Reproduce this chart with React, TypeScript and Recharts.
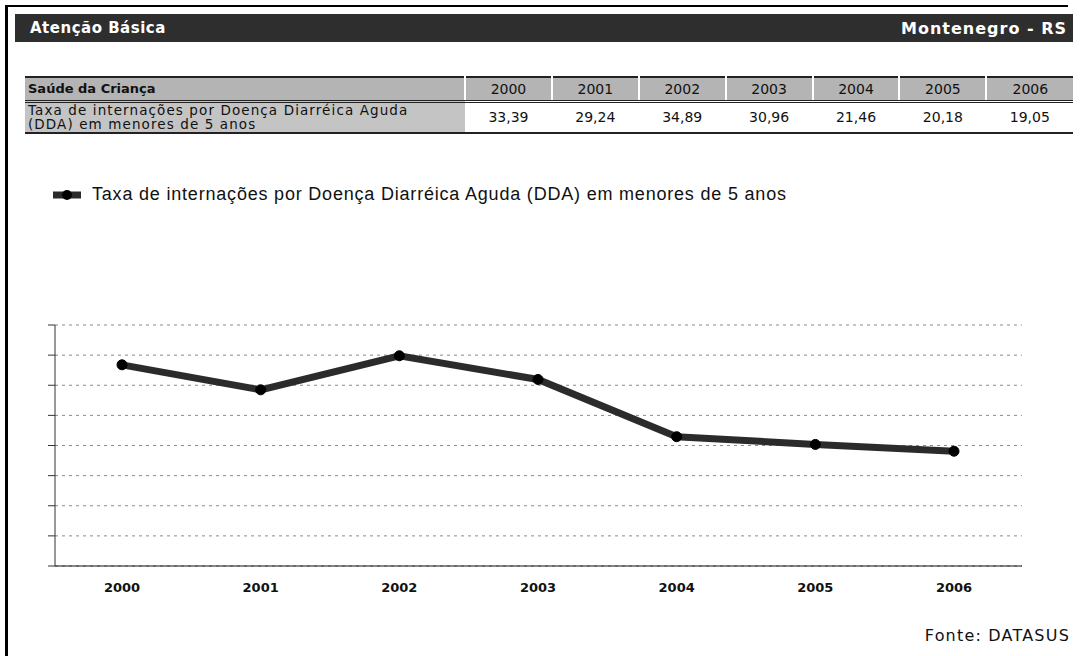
import { LineChart, Line, XAxis, YAxis, CartesianGrid, Legend } from "recharts";

const years = ["2000", "2001", "2002", "2003", "2004", "2005", "2006"];
const taxaDDA = [33.39, 29.24, 34.89, 30.96, 21.46, 20.18, 19.05];
const valueLabels = ["33,39", "29,24", "34,89", "30,96", "21,46", "20,18", "19,05"];
const yTicks = [0, 5, 10, 15, 20, 25, 30, 35, 40];

const seriesName = "Taxa de internações por Doença Diarréica Aguda (DDA) em menores de 5 anos";

const chartData = years.map((year, i) => ({ year, taxa: taxaDDA[i] }));

const tableFont = "'DejaVu Sans', Verdana, sans-serif";

function LegendContent() {
  return (
    <div style={{ display: "flex", alignItems: "center", fontFamily: "'Liberation Sans', Arial, sans-serif", fontSize: 18, letterSpacing: 0.8, color: "#111", whiteSpace: "nowrap" }}>
      <svg width={30} height={12} style={{ marginRight: 10 }}>
        <line x1={1} y1={6} x2={29} y2={6} stroke="#2b2b2b" strokeWidth={7} />
        <circle cx={15} cy={6} r={5} fill="#000" />
      </svg>
      <span>{seriesName}</span>
    </div>
  );
}

export default function App() {
  const colW = 86.9;

  return (
    <div style={{ position: "absolute", left: 0, top: 0, width: 1080, height: 656, background: "#fff", overflow: "hidden" }}>
      {/* page frame */}
      <div style={{ position: "absolute", left: 5, top: 5, width: 1060, height: 660, borderLeft: "3px solid #000", borderTop: "2px solid #000" }} />

      {/* header bar */}
      <div
        style={{
          position: "absolute", left: 15, top: 14, width: 1058, height: 28, background: "#2e2e2e",
          display: "flex", alignItems: "center", justifyContent: "space-between",
          fontFamily: tableFont, fontWeight: "bold", color: "#fff",
        }}
      >
        <span style={{ marginLeft: 15, fontSize: 15, letterSpacing: 0.5 }}>Atenção Básica</span>
        <span style={{ marginRight: 6, fontSize: 16, letterSpacing: 1 }}>Montenegro - RS</span>
      </div>

      {/* data table */}
      <table
        style={{
          position: "absolute", left: 25, top: 76, width: 1048, borderCollapse: "collapse",
          fontFamily: tableFont, fontSize: 13, color: "#111", tableLayout: "fixed",
        }}
      >
        <colgroup>
          <col style={{ width: 440 }} />
          {years.map((y) => (
            <col key={y} style={{ width: colW }} />
          ))}
        </colgroup>
        <tbody>
          <tr style={{ height: 24, background: "#b4b4b4", borderTop: "2px solid #222", borderBottom: "3px double #222" }}>
            <td style={{ padding: "0 3px", fontWeight: "bold" }}>Saúde da Criança</td>
            {years.map((y) => (
              <td key={y} style={{ textAlign: "center", borderLeft: "2px solid #fff", fontSize: 14 }}>{y}</td>
            ))}
          </tr>
          <tr style={{ height: 32, borderBottom: "2px solid #222" }}>
            <td style={{ padding: "0 3px", background: "#c4c4c4", lineHeight: "14px", fontSize: 13.5, letterSpacing: 1.1, whiteSpace: "nowrap" }}>
              Taxa de internações por Doença Diarréica Aguda
              <br />
              (DDA) em menores de 5 anos
            </td>
            {valueLabels.map((v) => (
              <td key={v} style={{ textAlign: "center", fontSize: 14 }}>{v}</td>
            ))}
          </tr>
        </tbody>
      </table>

      {/* chart */}
      <div style={{ position: "absolute", left: 0, top: 170 }}>
        <LineChart width={1080} height={440} data={chartData} margin={{ top: 155, right: 58, left: 54, bottom: 10 }}>
          <CartesianGrid vertical={false} stroke="#8a8a8a" strokeDasharray="3 4" />
          <XAxis
            dataKey="year"
            height={34}
            padding={{ left: 67, right: 68 }}
            axisLine={{ stroke: "#111" }}
            tickLine={false}
            tick={{ fontFamily: tableFont, fontSize: 13, fontWeight: "bold", fill: "#111" }}
            dy={9}
          />
          <YAxis
            width={1}
            domain={[0, 40]}
            ticks={yTicks}
            interval={0}
            tickFormatter={() => ""}
            tickSize={7}
            axisLine={{ stroke: "#333" }}
            tickLine={{ stroke: "#333" }}
          />
          <Legend
            layout="horizontal"
            verticalAlign="middle"
            align="center"
            wrapperStyle={{ top: 14, left: 52, width: "auto" }}
            content={() => <LegendContent />}
          />
          <Line
            type="linear"
            dataKey="taxa"
            name={seriesName}
            stroke="#2b2b2b"
            strokeWidth={7}
            dot={{ r: 5, fill: "#000", stroke: "#000", strokeWidth: 1 }}
            isAnimationActive={false}
          />
        </LineChart>
      </div>

      {/* source */}
      <div style={{ position: "absolute", right: 10, top: 626, fontFamily: tableFont, fontSize: 16, letterSpacing: 1.2, color: "#111" }}>
        Fonte: DATASUS
      </div>
    </div>
  );
}
